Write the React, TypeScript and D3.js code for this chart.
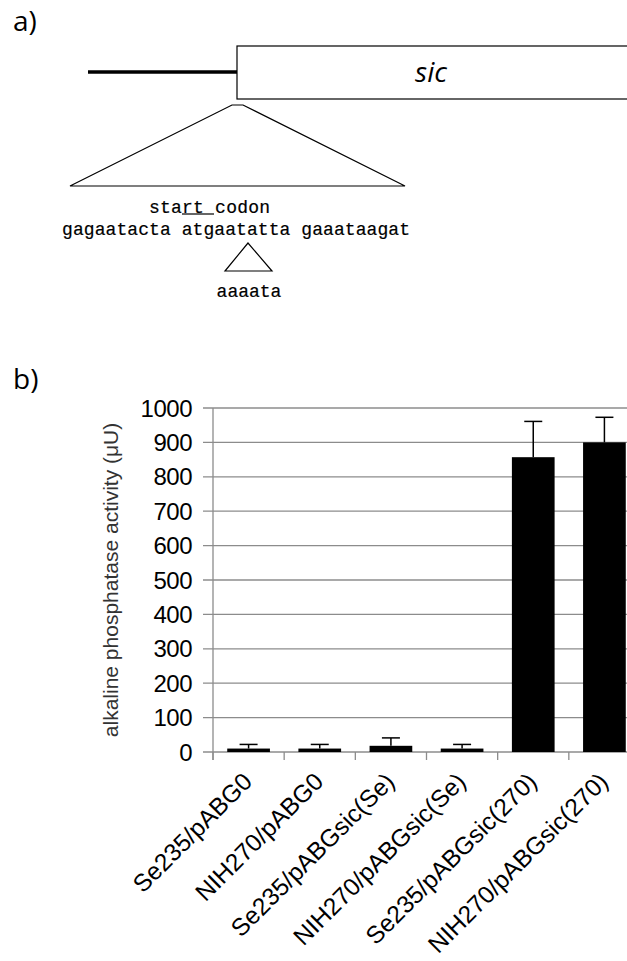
import React, { useEffect, useRef } from "react";
import * as d3 from "d3";

// bar chart data (panel b)
const strains = [
  "Se235/pABG0",
  "NIH270/pABG0",
  "Se235/pABGsic(Se)",
  "NIH270/pABGsic(Se)",
  "Se235/pABGsic(270)",
  "NIH270/pABGsic(270)",
];
const activity = [10, 10, 18, 10, 857, 900];
const activityErr = [12, 12, 23, 12, 104, 73];
const yTicks = [0, 100, 200, 300, 400, 500, 600, 700, 800, 900, 1000];

// sequence text (panel a)
const seqLine = "gagaatacta atgaatatta gaaataagat";
const insertion = "aaaata";

const W = 627;
const H = 961;

const App: React.FC = () => {
  const ref = useRef<SVGSVGElement | null>(null);

  useEffect(() => {
    if (!ref.current) return;
    const svg = d3.select(ref.current);
    svg.selectAll("*").remove();

    // ---------- panel a ----------
    const a = svg.append("g");
    a.append("text")
      .attr("x", 13)
      .attr("y", 31)
      .style("font", "28px 'Open Sans', sans-serif")
      .text("a)");

    a.append("line")
      .attr("x1", 88).attr("x2", 237)
      .attr("y1", 72).attr("y2", 72)
      .attr("stroke", "#000").attr("stroke-width", 3.5);

    a.append("rect")
      .attr("x", 237).attr("y", 46)
      .attr("width", 420).attr("height", 53)
      .attr("fill", "#fff").attr("stroke", "#000").attr("stroke-width", 1.2);

    a.append("text")
      .attr("x", 431).attr("y", 82)
      .attr("text-anchor", "middle")
      .style("font", "italic 28px 'Open Sans', sans-serif")
      .text("sic");

    a.append("path")
      .attr("d", "M70,186 L232,105 L243,105 L405,186 Z")
      .attr("fill", "none").attr("stroke", "#000").attr("stroke-width", 1.2);

    const mono = "18px 'Liberation Mono', monospace";
    const monoStroke = (sel: any) =>
      sel.attr("stroke", "#000").attr("stroke-width", 0.2);

    a.append("text")
      .attr("x", 149).attr("y", 213)
      .attr("textLength", 121)
      .style("font", mono)
      .call(monoStroke)
      .text("start codon");
    a.append("line")
      .attr("x1", 182).attr("x2", 214)
      .attr("y1", 214).attr("y2", 214)
      .attr("stroke", "#000").attr("stroke-width", 1.2);

    a.append("text")
      .attr("x", 62).attr("y", 235)
      .attr("textLength", 348)
      .style("font", mono)
      .call(monoStroke)
      .text(seqLine);

    a.append("path")
      .attr("d", "M248,243 L225,271 L272,271 Z")
      .attr("fill", "none").attr("stroke", "#000").attr("stroke-width", 1.2);

    a.append("text")
      .attr("x", 249).attr("y", 297)
      .attr("text-anchor", "middle")
      .style("font", mono)
      .call(monoStroke)
      .text(insertion);

    // ---------- panel b ----------
    svg.append("text")
      .attr("x", 13)
      .attr("y", 389)
      .style("font", "28px 'Open Sans', sans-serif")
      .text("b)");

    const left = 213;
    const right = 640;
    const top = 408;
    const bottom = 752;

    const x = d3.scaleBand<string>()
      .domain(strains)
      .range([left, right])
      .paddingInner(0.4)
      .paddingOuter(0.2);
    const y = d3.scaleLinear().domain([0, 1000]).range([bottom, top]);

    const b = svg.append("g");
    const grid = "#8c8c8c";

    // gridlines + y ticks
    b.selectAll("line.grid")
      .data(yTicks)
      .enter()
      .append("line")
      .attr("x1", left - 10)
      .attr("x2", right)
      .attr("y1", (d) => y(d))
      .attr("y2", (d) => y(d))
      .attr("stroke", grid)
      .attr("stroke-width", 1.3);

    b.selectAll("text.ytick")
      .data(yTicks)
      .enter()
      .append("text")
      .attr("x", 192)
      .attr("y", (d) => y(d))
      .attr("dy", "0.36em")
      .attr("text-anchor", "end")
      .style("font", "24px 'Liberation Sans', Arial, sans-serif")
      .style("letter-spacing", "-0.5px")
      .text((d) => d);

    // y axis
    b.append("line")
      .attr("x1", left).attr("x2", left)
      .attr("y1", top).attr("y2", bottom + 8)
      .attr("stroke", grid).attr("stroke-width", 1.3);

    // category boundaries
    const step = x.step();
    b.selectAll("line.xtick")
      .data(d3.range(strains.length + 1))
      .enter()
      .append("line")
      .attr("x1", (i) => left + i * step)
      .attr("x2", (i) => left + i * step)
      .attr("y1", bottom)
      .attr("y2", bottom + 8)
      .attr("stroke", grid)
      .attr("stroke-width", 1.3);

    // bars
    b.selectAll("rect.bar")
      .data(strains)
      .enter()
      .append("rect")
      .attr("x", (d) => x(d)!)
      .attr("width", x.bandwidth())
      .attr("y", (d, i) => y(activity[i]))
      .attr("height", (d, i) => bottom - y(activity[i]))
      .attr("fill", "#000");

    // error bars
    const errG = b.selectAll("g.err")
      .data(strains)
      .enter()
      .append("g");
    errG.append("line")
      .attr("x1", (d) => x(d)! + x.bandwidth() / 2)
      .attr("x2", (d) => x(d)! + x.bandwidth() / 2)
      .attr("y1", (d, i) => y(activity[i]))
      .attr("y2", (d, i) => y(activity[i] + activityErr[i]))
      .attr("stroke", "#000").attr("stroke-width", 1.5);
    errG.append("line")
      .attr("x1", (d) => x(d)! + x.bandwidth() / 2 - 9)
      .attr("x2", (d) => x(d)! + x.bandwidth() / 2 + 9)
      .attr("y1", (d, i) => y(activity[i] + activityErr[i]))
      .attr("y2", (d, i) => y(activity[i] + activityErr[i]))
      .attr("stroke", "#000").attr("stroke-width", 1.5);

    // x labels
    b.selectAll("text.xlab")
      .data(strains)
      .enter()
      .append("text")
      .attr("transform", (d) =>
        `translate(${x(d)! + x.bandwidth() / 2 - 7},${bottom + 19}) rotate(-45)`)
      .attr("text-anchor", "end")
      .attr("dy", "0.7em")
      .style("font", "24.5px 'Liberation Sans', Arial, sans-serif")
      .text((d) => d);

    // y axis title
    b.append("text")
      .attr("transform", `translate(118,${(top + bottom) / 2 + 0}) rotate(-90)`)
      .attr("text-anchor", "middle")
      .attr("fill", "#333")
      .style("font", "21px 'Liberation Sans', Arial, sans-serif")
      .text("alkaline phosphatase activity  (\u03bcU)");
  }, []);

  return (
    <svg
      ref={ref}
      width={W}
      height={H}
      style={{ position: "absolute", left: 0, top: 0, background: "#fff" }}
    />
  );
};

export default App;
